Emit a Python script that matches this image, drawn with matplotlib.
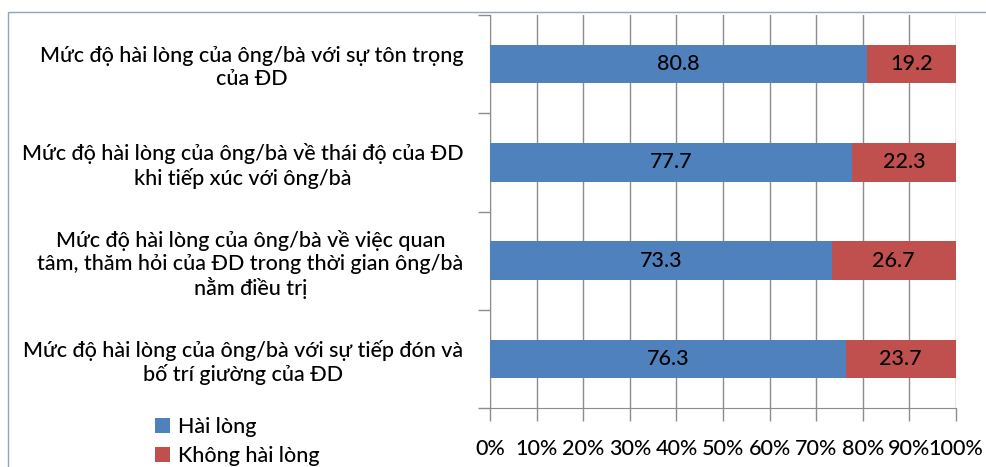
import matplotlib.pyplot as plt
import matplotlib.patches as mpatches
import numpy as np

plt.rcParams['font.family'] = ['Lato', 'DejaVu Sans']
plt.rcParams['font.weight'] = 'medium'

categories = [
    'Mức độ hài lòng của ông/bà với sự tôn trọng\ncủa ĐD',
    'Mức độ hài lòng của ông/bà về thái độ của ĐD\nkhi tiếp xúc với ông/bà',
    'Mức độ hài lòng của ông/bà về việc quan\ntâm, thăm hỏi của ĐD trong thời gian ông/bà\nnằm điều trị',
    'Mức độ hài lòng của ông/bà với sự tiếp đón và\nbố trí giường của ĐD',
]
hai_long = [80.8, 77.7, 73.3, 76.3]
khong_hai_long = [19.2, 22.3, 26.7, 23.7]
series_names = ['Hài lòng', 'Không hài lòng']
colors = ['#4F81BD', '#C0504D']
grid_c = '#8C8C8C'
fs = 15.5

W, H = 987, 467
fig = plt.figure(figsize=(W / 100, H / 100), dpi=100)
ax = fig.add_axes([490 / W, 59 / H, 466 / W, 393 / H])

y = np.arange(len(categories))
b1 = ax.barh(y, hai_long, height=0.39, color=colors[0], label=series_names[0], zorder=3)
b2 = ax.barh(y, khong_hai_long, left=hai_long, height=0.39, color=colors[1],
             label=series_names[1], zorder=3)

for bars, vals, lefts in ((b1, hai_long, [0] * 4), (b2, khong_hai_long, hai_long)):
    for yy, v, l in zip(y, vals, lefts):
        ax.text(l + v / 2, yy, '%.1f' % v, ha='center', va='center',
                fontsize=fs, color='black', zorder=4)

ax.set_xlim(0, 100)
ax.set_ylim(len(categories) - 0.5, -0.5)
ax.set_xticks(np.arange(0, 101, 10))
ax.set_xticklabels(['%d%%' % v for v in range(0, 101, 10)], fontsize=fs)
ax.xaxis.grid(True, color=grid_c, linewidth=1, zorder=0)

# category labels at centers, tick marks at the band boundaries
ax.set_yticks(y)
ax.set_yticklabels(categories, fontsize=fs, linespacing=1.2)
for t in ax.get_yticklabels():
    t.set_multialignment('center')
ax.tick_params(axis='y', length=0, pad=19)
ax.set_yticks(np.arange(-0.5, len(categories)), minor=True)
ax.tick_params(axis='y', which='minor', length=9, color=grid_c, width=1)
ax.tick_params(axis='x', length=9, color=grid_c, width=1, pad=13)

for s in ('top', 'right'):
    ax.spines[s].set_visible(False)
for s in ('left', 'bottom'):
    ax.spines[s].set_color(grid_c)

fig.legend(handles=[b1, b2], labels=series_names, loc='upper left',
           bbox_to_anchor=(146 / W, 1 - 408 / H), frameon=False, fontsize=fs,
           handlelength=0.7, handleheight=0.7, handletextpad=0.4, labelspacing=0.45,
           borderaxespad=0)

# outer chart frame
fig.patches.append(mpatches.Rectangle((8 / W, -0.1), 1.2, 1 - 12 / H + 0.1,
                                      transform=fig.transFigure, fill=False,
                                      edgecolor='#8EA4C0', linewidth=1))

fig.savefig('out.png', dpi=100)
